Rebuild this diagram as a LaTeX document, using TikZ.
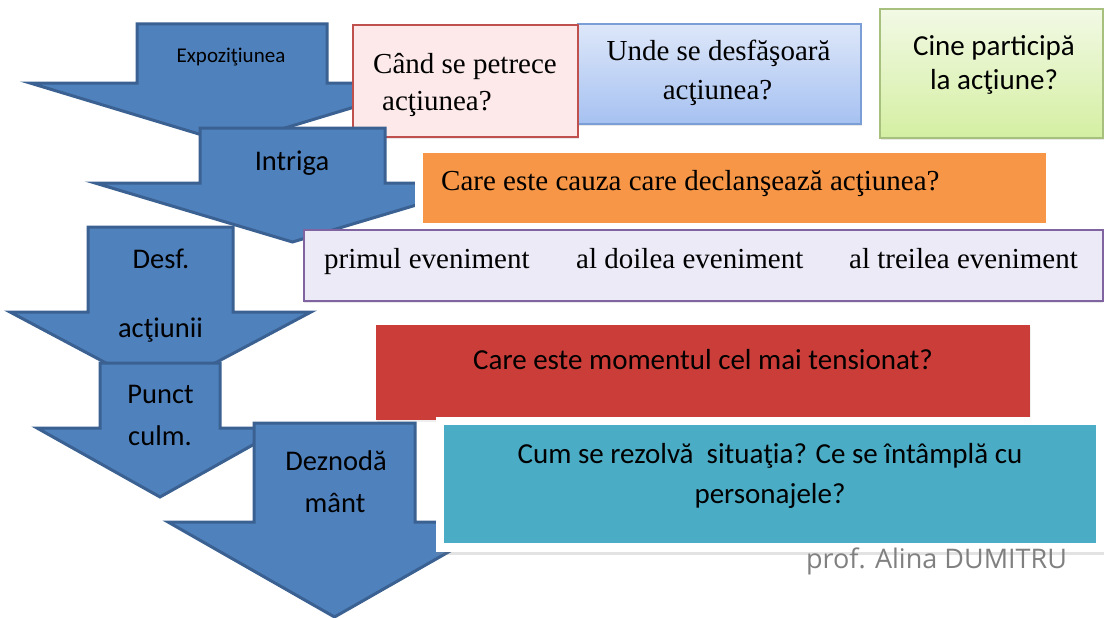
\documentclass[tikz,border=0pt]{standalone}
\usepackage{fontspec}
\setmainfont{Liberation Serif}
\newfontfamily\calfont{Carlito}
\newfontfamily\osfont{Open Sans}
\usetikzlibrary{shadows}
\definecolor{arrfill}{HTML}{4F81BD}
\definecolor{arrline}{HTML}{3A6191}
\definecolor{pinkfill}{HTML}{FDE9E9}
\definecolor{pinkline}{HTML}{C0504D}
\definecolor{bluetop}{HTML}{DDE7F9}
\definecolor{bluebot}{HTML}{A6C1F1}
\definecolor{blueline}{HTML}{7C9ED6}
\definecolor{greentop}{HTML}{F2F9E5}
\definecolor{greenbot}{HTML}{D4EFA2}
\definecolor{greenline}{HTML}{A8C07E}
\definecolor{orangefill}{HTML}{F79646}
\definecolor{lavfill}{HTML}{EDEAF7}
\definecolor{lavline}{HTML}{8064A2}
\definecolor{redfill}{HTML}{CB3D38}
\definecolor{tealfill}{HTML}{4BACC6}
\definecolor{footgray}{HTML}{808080}
\tikzset{
  arrowshape/.style={fill=arrfill, draw=arrline, line width=3pt, line join=miter},
  arrowtext/.style={font=\calfont\fontsize{28.5}{30}\selectfont, anchor=base, inner sep=0pt},
  smallarrowtext/.style={font=\calfont\fontsize{21}{24}\selectfont, anchor=base, inner sep=0pt},
  sertext/.style={font=\fontsize{29}{32}\selectfont, inner sep=0pt},
  caltext/.style={font=\calfont\fontsize{29}{32}\selectfont, inner sep=0pt},
  boxbase/.style={rectangle, inner sep=0pt, outer sep=0pt},
  lightshadow/.style={drop shadow={opacity=0.18, shadow xshift=0.5pt, shadow yshift=-2pt}},
  framebox/.style={boxbase, fill=white, drop shadow={opacity=0.22, shadow xshift=0pt, shadow yshift=-3pt}},
}
\begin{document}
\begin{tikzpicture}[x=1pt,y=-1pt]
\useasboundingbox[fill=white] (0,0) rectangle (1105,618);

% arrow 1: Expozitiunea
\draw[arrowshape] (137,24) -- (327,24) -- (327,83) -- (434,83) -- (232,144) -- (30,83) -- (137,83) -- cycle;

% top boxes
\node[boxbase, top color=bluetop, bottom color=bluebot, draw=blueline, line width=1.5pt, lightshadow,
      minimum width=283pt, minimum height=100pt] (unde) at (719.5,74) {};
\node[boxbase, fill=pinkfill, draw=pinkline, line width=2pt, lightshadow,
      minimum width=225pt, minimum height=112pt] (cand) at (465.5,81) {};
\node[boxbase, top color=greentop, bottom color=greenbot, draw=greenline, line width=1.5pt, lightshadow,
      minimum width=223pt, minimum height=129pt] (cine) at (991.5,73.5) {};

% arrow 2: Intriga
\draw[arrowshape] (200,128) -- (385,128) -- (385,183) -- (490,183) -- (292.5,242) -- (95,183) -- (200,183) -- cycle;

% orange box
\node[framebox, minimum width=639pt, minimum height=84pt] (cauzaframe) at (734.5,187) {};
\node[boxbase, fill=orangefill, minimum width=623pt, minimum height=70pt] (cauza) at (734.5,188) {};

% lavender box
\node[boxbase, fill=lavfill, draw=lavline, line width=2pt, lightshadow,
      minimum width=799pt, minimum height=71pt] (evenimente) at (703,265.5) {};

% arrow 3: Desf. actiunii
\draw[arrowshape] (88,227) -- (233,227) -- (233,312) -- (311,312) -- (160.5,392) -- (10,312) -- (88,312) -- cycle;
% arrow 4: Punct culm.
\draw[arrowshape] (100,363) -- (220,363) -- (220,428) -- (283,428) -- (160,497) -- (37,428) -- (100,428) -- cycle;

% red box
\node[boxbase, fill=redfill, drop shadow={opacity=0.12, shadow xshift=1pt, shadow yshift=-1.5pt},
      minimum width=654pt, minimum height=95pt] (moment) at (703,372.5) {};

% arrow 5: Deznodamant
\draw[arrowshape] (254,423) -- (415,423) -- (415,522) -- (501,522) -- (334.5,617) -- (168,522) -- (254,522) -- cycle;

% teal box
\node[framebox, minimum width=668pt, minimum height=135pt] (rezolvaframe) at (770,484.5) {};
\node[boxbase, fill=tealfill, minimum width=652pt, minimum height=118pt] (rezolva) at (770,484) {};

% arrow texts
\node[smallarrowtext] (t1) at (231,63) {Expoziţiunea};
\node[arrowtext] (t2) at (292,170) {Intriga};
\node[arrowtext] (t3a) at (161,268) {Desf.};
\node[arrowtext] (t3b) at (160.5,337) {acţiunii};
\node[arrowtext] (t4a) at (160.5,403) {Punct};
\node[arrowtext] (t4b) at (160,445) {culm.};
\node[arrowtext] (t5a) at (336,470) {Deznodă};
\node[arrowtext] (t5b) at (335,512) {mânt};

% box texts
\node[sertext, anchor=base west] (c1) at (373,74) {Când se petrece};
\node[sertext, anchor=base west] (c2) at (382,110) {acţiunea?};
\node[sertext, anchor=base] (u1) at (718.5,61) {Unde se desfăşoară};
\node[sertext, anchor=base] (u2) at (717.5,99) {acţiunea?};
\node[caltext, anchor=base] (p1) at (994,56) {Cine participă};
\node[caltext, anchor=base] (p2) at (994,89) {la acţiune?};
\node[sertext, anchor=base west] (q1) at (441,190) {Care este cauza care declanşează acţiunea?};
\node[sertext, anchor=base west] (e1) at (324,268) {primul eveniment};
\node[sertext, anchor=base west] (e2) at (576,268) {al doilea eveniment};
\node[sertext, anchor=base west] (e3) at (849,268) {al treilea eveniment};
\node[caltext, anchor=base] (m1) at (703,369) {Care este momentul cel mai tensionat?};
\node[caltext, anchor=base] (r1) at (770,463) {Cum se rezolvă\ \ situaţia? Ce se întâmplă cu};
\node[caltext, anchor=base] (r2) at (770,503) {personajele?};
\node[anchor=base, inner sep=0pt, text=footgray, font=\osfont\fontsize{27}{30}\selectfont] (autor) at (936.5,568) {prof. Alina DUMITRU};
\end{tikzpicture}
\end{document}
